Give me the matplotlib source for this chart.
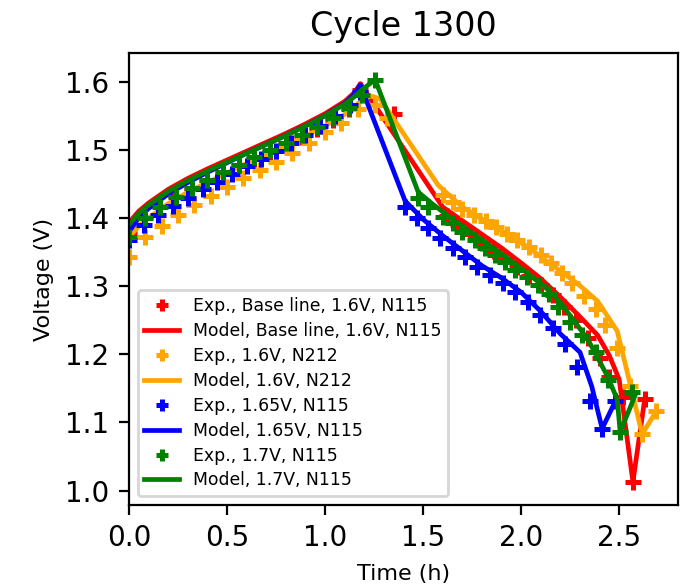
import matplotlib
matplotlib.use("Agg")
import matplotlib.pyplot as plt

# experiment, baseline 1.6V N115 (red)
t_red_exp = [0.0, 0.08, 0.16, 0.24, 0.32, 0.40, 0.48, 0.56, 0.64, 0.72, 0.80, 0.88, 0.96, 1.04, 1.12, 1.18, 1.35,
             1.62, 1.68, 1.74, 1.80, 1.86, 1.92, 1.98, 2.04, 2.10, 2.16, 2.22, 2.28, 2.34, 2.40, 2.45, 2.52, 2.57, 2.63]
v_red_exp = [1.378, 1.402, 1.418, 1.432, 1.444, 1.455, 1.466, 1.477, 1.487, 1.497, 1.508, 1.519, 1.531, 1.544, 1.560, 1.588, 1.553,
             1.403, 1.390, 1.377, 1.364, 1.352, 1.340, 1.328, 1.315, 1.302, 1.287, 1.270, 1.250, 1.224, 1.194, 1.166, 1.137, 1.013, 1.134]
t_red_mod = [0.0, 0.05, 0.1, 0.2, 0.3, 0.4, 0.5, 0.6, 0.7, 0.8, 0.9, 1.0, 1.1, 1.15, 1.18,
             1.60, 1.7, 1.8, 1.9, 2.0, 2.1, 2.2, 2.3, 2.39, 2.45, 2.50, 2.57, 2.63]
v_red_mod = [1.393, 1.410, 1.422, 1.442, 1.458, 1.472, 1.485, 1.498, 1.511, 1.524, 1.538, 1.553, 1.571, 1.584, 1.597,
             1.416, 1.396, 1.376, 1.356, 1.334, 1.311, 1.284, 1.255, 1.228, 1.198, 1.163, 1.013, 1.134]

# 1.6V N212 (orange)
t_org_exp = [0.0, 0.083, 0.167, 0.25, 0.333, 0.417, 0.5, 0.583, 0.667, 0.75, 0.833, 0.917, 1.0, 1.083, 1.167, 1.255, 1.316,
             1.60, 1.65, 1.70, 1.76, 1.82, 1.87, 1.93, 1.98, 2.04, 2.10, 2.15, 2.21, 2.26, 2.32, 2.38, 2.43, 2.49, 2.556, 2.617, 2.69]
v_org_exp = [1.343, 1.372, 1.388, 1.404, 1.419, 1.432, 1.445, 1.458, 1.470, 1.482, 1.496, 1.510, 1.526, 1.540, 1.560, 1.565, 1.546,
             1.433, 1.423, 1.413, 1.404, 1.396, 1.387, 1.377, 1.368, 1.357, 1.345, 1.334, 1.320, 1.305, 1.286, 1.266, 1.243, 1.209, 1.153, 1.083, 1.117]
t_org_mod = [0.0, 0.05, 0.1, 0.2, 0.3, 0.4, 0.5, 0.6, 0.7, 0.8, 0.9, 1.0, 1.1, 1.18, 1.23, 1.28,
             1.577, 1.70, 1.867, 2.036, 2.12, 2.20, 2.29, 2.39, 2.49, 2.546, 2.617, 2.69]
v_org_mod = [1.372, 1.388, 1.400, 1.421, 1.438, 1.452, 1.466, 1.480, 1.493, 1.506, 1.520, 1.535, 1.552, 1.570, 1.579, 1.575,
             1.448, 1.416, 1.387, 1.357, 1.339, 1.322, 1.303, 1.278, 1.234, 1.168, 1.083, 1.117]

# 1.65V N115 (blue)
t_blu_exp = [0.0, 0.075, 0.15, 0.225, 0.30, 0.375, 0.45, 0.525, 0.60, 0.675, 0.75, 0.825, 0.90, 0.975, 1.05, 1.125, 1.18,
             1.408, 1.469, 1.526, 1.587, 1.653, 1.714, 1.776, 1.842, 1.908, 1.969, 2.036, 2.097, 2.163, 2.224, 2.286, 2.352, 2.413, 2.48]
v_blu_exp = [1.368, 1.390, 1.405, 1.418, 1.430, 1.442, 1.453, 1.464, 1.476, 1.487, 1.498, 1.510, 1.522, 1.535, 1.549, 1.565, 1.585,
             1.416, 1.400, 1.385, 1.371, 1.356, 1.343, 1.328, 1.317, 1.305, 1.291, 1.276, 1.258, 1.239, 1.215, 1.182, 1.131, 1.091, 1.131]
t_blu_mod = [0.0, 0.05, 0.1, 0.2, 0.3, 0.4, 0.5, 0.6, 0.7, 0.8, 0.9, 1.0, 1.1, 1.15, 1.18,
             1.408, 1.5, 1.6, 1.7, 1.8, 1.9, 2.0, 2.1, 2.2, 2.30, 2.36, 2.413, 2.48]
v_blu_mod = [1.380, 1.400, 1.414, 1.435, 1.452, 1.467, 1.481, 1.495, 1.508, 1.521, 1.535, 1.550, 1.568, 1.582, 1.595,
             1.425, 1.398, 1.374, 1.352, 1.330, 1.312, 1.291, 1.263, 1.230, 1.203, 1.153, 1.091, 1.131]

# 1.7V N115 (green)
t_grn_exp = [0.0, 0.08, 0.16, 0.24, 0.32, 0.40, 0.48, 0.56, 0.64, 0.72, 0.80, 0.88, 0.96, 1.04, 1.12, 1.19, 1.255,
             1.475, 1.526, 1.60, 1.65, 1.70, 1.765, 1.816, 1.867, 1.918, 1.97, 2.03, 2.087, 2.14, 2.19, 2.25, 2.31, 2.38, 2.444, 2.505, 2.566]
v_grn_exp = [1.372, 1.400, 1.416, 1.431, 1.444, 1.456, 1.467, 1.478, 1.489, 1.499, 1.510, 1.521, 1.533, 1.546, 1.562, 1.580, 1.603,
             1.430, 1.416, 1.401, 1.393, 1.380, 1.368, 1.356, 1.346, 1.336, 1.324, 1.314, 1.302, 1.288, 1.269, 1.248, 1.229, 1.203, 1.163, 1.086, 1.145]
t_grn_mod = [0.0, 0.05, 0.1, 0.2, 0.3, 0.4, 0.5, 0.6, 0.7, 0.8, 0.9, 1.0, 1.1, 1.15, 1.18, 1.255,
             1.475, 1.55, 1.65, 1.78, 1.9, 2.0, 2.12, 2.2, 2.34, 2.44, 2.49, 2.505, 2.58]
v_grn_mod = [1.390, 1.407, 1.419, 1.439, 1.455, 1.469, 1.482, 1.495, 1.508, 1.521, 1.535, 1.550, 1.567, 1.578, 1.586, 1.603,
             1.438, 1.420, 1.398, 1.372, 1.347, 1.326, 1.299, 1.276, 1.222, 1.168, 1.134, 1.086, 1.139]

fig = plt.figure(figsize=(3.46, 2.94), dpi=200)
ax = fig.add_axes([0.1864, 0.1412, 0.7934, 0.7687])

mk = dict(ls='none', marker='+', ms=5.5, mew=1.8)
lw = 1.7
ax.plot(t_red_exp, v_red_exp, color='red', label='Exp., Base line, 1.6V, N115', **mk)
ax.plot(t_red_mod, v_red_mod, color='red', lw=lw, label='Model, Base line, 1.6V, N115')
ax.plot(t_org_exp, v_org_exp, color='orange', label='Exp., 1.6V, N212', **mk)
ax.plot(t_org_mod, v_org_mod, color='orange', lw=lw, label='Model, 1.6V, N212')
ax.plot(t_blu_exp, v_blu_exp, color='blue', label='Exp., 1.65V, N115', **mk)
ax.plot(t_blu_mod, v_blu_mod, color='blue', lw=lw, label='Model, 1.65V, N115')
ax.plot(t_grn_exp, v_grn_exp, color='green', label='Exp., 1.7V, N115', **mk)
ax.plot(t_grn_mod, v_grn_mod, color='green', lw=lw, label='Model, 1.7V, N115')

ax.set_xlim(0, 2.8)
ax.set_ylim(0.979, 1.642)
ax.set_title('Cycle 1300', fontsize=12)
ax.set_xlabel('Time (h)', fontsize=8)
ax.set_ylabel('Voltage (V)', fontsize=8)
ax.tick_params(labelsize=10)
ax.legend(loc='lower left', fontsize=6.2, labelspacing=0.4, markerscale=0.85)

fig.savefig('out.png', dpi=200)
